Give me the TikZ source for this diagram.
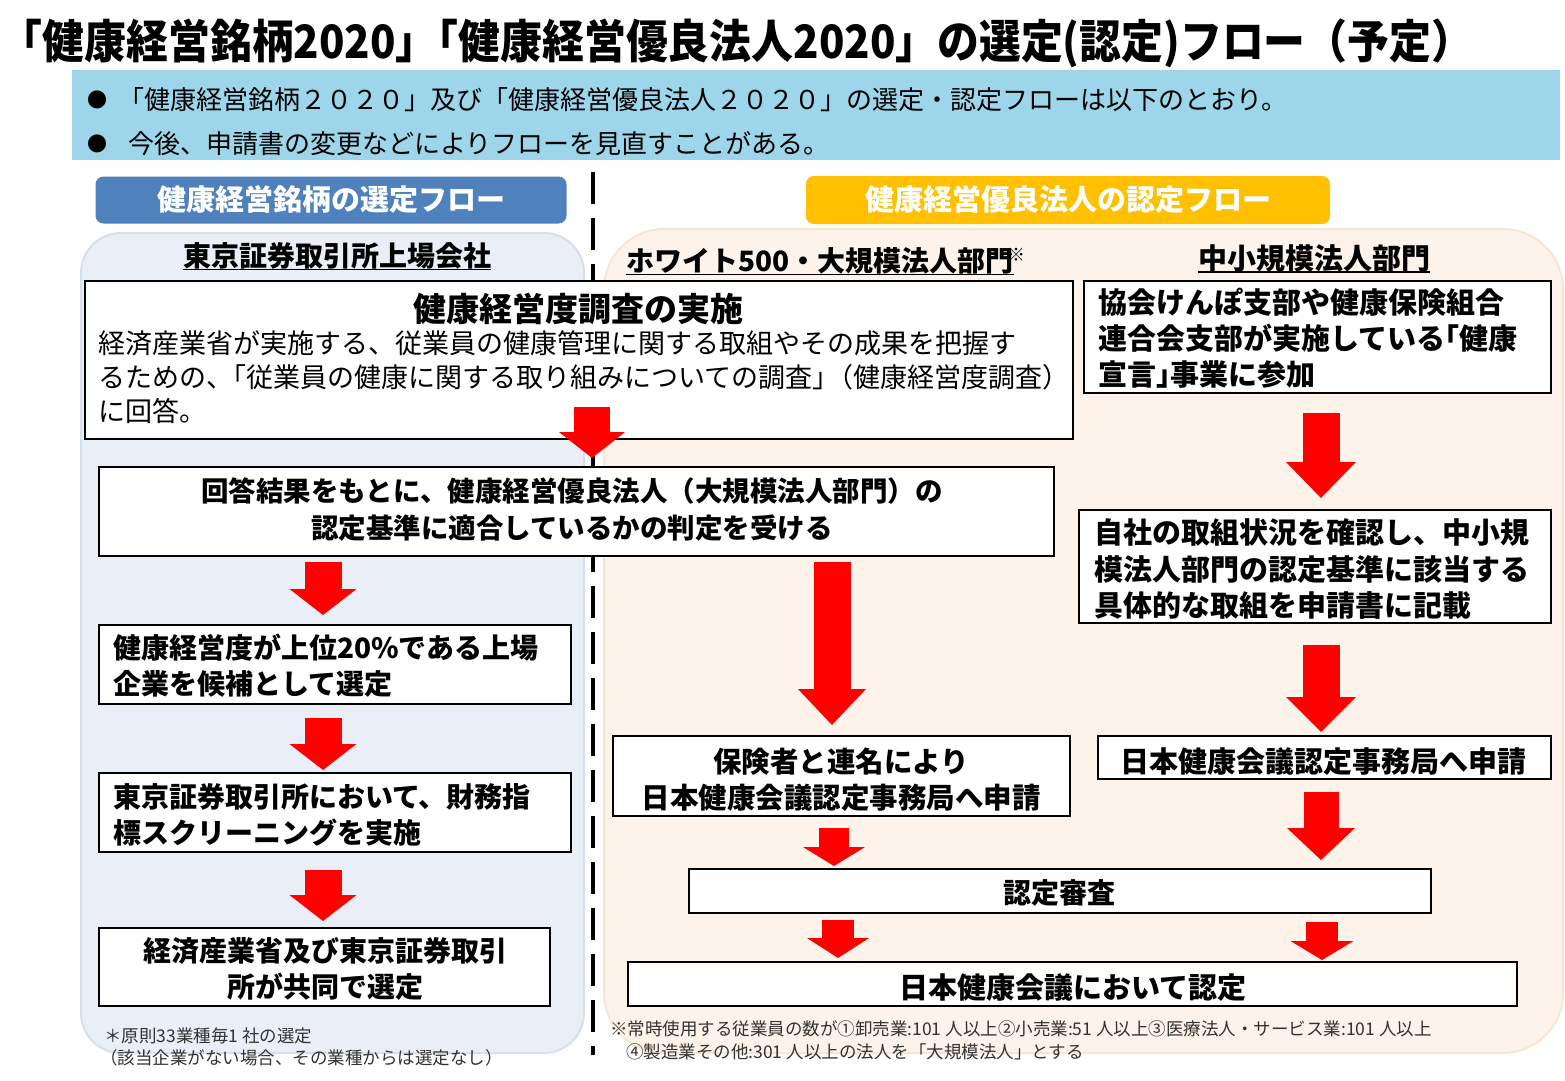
\documentclass[tikz,border=0pt]{standalone}
\usepackage{fontspec}
\usepackage{graphicx}
\setmainfont{Noto Sans CJK JP}
\usetikzlibrary{arrows.meta}
\definecolor{bandblue}{RGB}{157,213,234}
\definecolor{lheadblue}{RGB}{79,129,189}
\definecolor{rheadgold}{RGB}{255,192,0}
\definecolor{lpanelfill}{RGB}{234,239,247}
\definecolor{lpanelline}{RGB}{214,223,236}
\definecolor{rpanelfill}{RGB}{253,243,234}
\definecolor{rpanelline}{RGB}{248,230,212}
\definecolor{arrowred}{RGB}{255,0,0}
\definecolor{notegray}{RGB}{50,50,50}
\newcommand{\fsz}[2]{\fontsize{#1}{#2}\selectfont}
\newcommand{\jkern}{\kern-0.5em}
\begin{document}
\begin{tikzpicture}[x=1pt,y=-1pt,
  box/.style={draw=black, line width=1.6pt, fill=white, anchor=north west, inner sep=0pt},
  txt/.style={inner sep=0pt},
  btxt/.style={inner sep=0pt, font=\bfseries},
  headbox/.style={rounded corners=8pt, inner sep=0pt, text=white, font=\fsz{29}{34}\bfseries},
  subhead/.style={inner sep=0pt, font=\fsz{28}{34}\bfseries},
  uline/.style={line width=1.5pt},
  divider/.style={line width=4pt, dash pattern=on 32pt off 14pt},
  blockarrow/.style n args={3}{draw=arrowred, line width=#1, -{Triangle[width=#2, length=#3, line width=0pt]}},
  note/.style={inner sep=0pt, anchor=west, text=notegray, font=\fsz{17.5}{22}},
]
\useasboundingbox (0,0) rectangle (1565,1080);
\fill[white] (0,0) rectangle (1565,1080);

% title
\node[txt] (title) at (737,43) {\fsz{46}{52}\bfseries\scalebox{0.91}[1]{「健康経営銘柄2020」\jkern「健康経営優良法人2020」の選定(認定)フロー（予定）}};

% blue band
\node[fill=bandblue, anchor=north west, inner sep=0pt, minimum width=1488pt, minimum height=90pt] (band) at (72,70) {};
\node[txt, font=\fsz{20}{24}] (bul1) at (97,100) {●};
\node[txt, font=\fsz{20}{24}] (bul2) at (97,144) {●};
\node[txt, anchor=west, font=\fsz{26}{30}] (band1) at (118,100) {「健康経営銘柄２０２０」及び「健康経営優良法人２０２０」の選定・認定フローは以下のとおり。};
\node[txt, anchor=west, font=\fsz{26}{30}] (band2) at (128,144) {今後、申請書の変更などによりフローを見直すことがある。};

% panels
\node[fill=lpanelfill, draw=lpanelline, line width=2pt, rounded corners=40pt, anchor=north west, inner sep=0pt, minimum width=503pt, minimum height=820pt] (lpanel) at (80,232) {};
\node[fill=rpanelfill, draw=rpanelline, line width=2pt, rounded corners=60pt, anchor=north west, inner sep=0pt, minimum width=959pt, minimum height=824pt] (rpanel) at (603,228) {};

% headers
\node[headbox, fill=lheadblue, minimum width=471pt, minimum height=47pt] (lhead) at (331,200) {健康経営銘柄の選定フロー};
\node[headbox, fill=rheadgold, minimum width=524pt, minimum height=48pt] (rhead) at (1068,200) {健康経営優良法人の認定フロー};

% divider
\coordinate (dvt) at (593,172);
\coordinate (dvb) at (593,1055);
\draw[divider] (dvt) -- (dvb);

% sub headers
\node[subhead] (sh1) at (337,256) {東京証券取引所上場会社};
\draw[uline] (sh1.south west) -- (sh1.south east);
\node[subhead] (sh2) at (820,261) {ホワイト500・大規模法人部門};
\draw[uline] (sh2.south west) -- (sh2.south east);
\node[txt, font=\fsz{18}{20}] (sh2mark) at (1016,255) {※};
\node[subhead, font=\fsz{29}{34}\bfseries] (sh3) at (1314,258) {中小規模法人部門};
\draw[uline] (sh3.south west) -- (sh3.south east);

% boxes
\node[box, minimum width=988pt, minimum height=158pt] (b1) at (84,280) {};
\node[btxt, font=\fsz{33}{38}\bfseries] (b1t) at (578,309) {健康経営度調査の実施};
\node[txt, anchor=west, align=left, font=\fsz{27}{34}] (b1b) at (98,377) {経済産業省が実施する、従業員の健康管理に関する取組やその成果を把握す\\るための、\jkern「従業員の健康に関する取り組みについての調査」\jkern（健康経営度調査）\\に回答。};

\node[box, minimum width=955pt, minimum height=89pt] (b2) at (98,466) {};
\node[btxt, align=center, font=\fsz{27.5}{37}\bfseries] (b2t) at (572,509) {回答結果をもとに、健康経営優良法人（大規模法人部門）の\\認定基準に適合しているかの判定を受ける};

\node[box, minimum width=472pt, minimum height=79pt] (bL1) at (98,624) {};
\node[btxt, anchor=west, align=left, font=\fsz{28}{36}\bfseries] (bL1t) at (113,666) {健康経営度が上位20\%である上場\\企業を候補として選定};

\node[box, minimum width=472pt, minimum height=79pt] (bL2) at (98,772) {};
\node[btxt, anchor=west, align=left, font=\fsz{28}{36}\bfseries] (bL2t) at (113,815) {東京証券取引所において、財務指\\標スクリーニングを実施};

\node[box, minimum width=451pt, minimum height=78pt] (bL3) at (98,927) {};
\node[btxt, align=center, font=\fsz{28}{36}\bfseries] (bL3t) at (325,969) {経済産業省及び東京証券取引\\所が共同で選定};

\node[box, minimum width=457pt, minimum height=80pt] (bW) at (612,735) {};
\node[btxt, align=center, font=\fsz{28.5}{36}\bfseries] (bWt) at (841,780) {保険者と連名により\\日本健康会議認定事務局へ申請};

\node[box, minimum width=467pt, minimum height=112pt] (bS1) at (1083,280) {};
\node[btxt, anchor=west, align=left, font=\fsz{29}{36}\bfseries] (bS1t) at (1098,338) {協会けんぽ支部や健康保険組合\\連合会支部が実施している\jkern「健康\\宣言」\jkern 事業に参加};

\node[box, minimum width=472pt, minimum height=113pt] (bS2) at (1078,509) {};
\node[btxt, anchor=west, align=left, font=\fsz{29}{36.5}\bfseries] (bS2t) at (1094,569) {自社の取組状況を確認し、中小規\\模法人部門の認定基準に該当する\\具体的な取組を申請書に記載};

\node[box, minimum width=453pt, minimum height=43pt] (bS3) at (1097,735) {};
\node[btxt, font=\fsz{29}{34}\bfseries] (bS3t) at (1323,762) {日本健康会議認定事務局へ申請};

\node[box, minimum width=742pt, minimum height=44pt] (bR) at (688,868) {};
\node[btxt, font=\fsz{28}{34}\bfseries] (bRt) at (1059,893) {認定審査};

\node[box, minimum width=889pt, minimum height=44pt] (bF) at (627,961) {};
\node[btxt, font=\fsz{29}{34}\bfseries] (bFt) at (1073,988) {日本健康会議において認定};

% arrows
\coordinate (a1s) at (592,407);   \coordinate (a1e) at (592,458);
\coordinate (aL1s) at (323,562);  \coordinate (aL1e) at (323,615);
\coordinate (aL2s) at (323,718);  \coordinate (aL2e) at (323,770);
\coordinate (aL3s) at (323,870);  \coordinate (aL3e) at (323,921);
\coordinate (aR1s) at (832,562);  \coordinate (aR1e) at (832,725);
\coordinate (aW2s) at (834,828);  \coordinate (aW2e) at (834,866);
\coordinate (aW3s) at (838,920);  \coordinate (aW3e) at (838,958);
\coordinate (aS1s) at (1321,413); \coordinate (aS1e) at (1321,498);
\coordinate (aS2s) at (1321,645); \coordinate (aS2e) at (1321,732);
\coordinate (aS3s) at (1321,792); \coordinate (aS3e) at (1321,860);
\coordinate (aS4s) at (1322,922); \coordinate (aS4e) at (1322,960);
\draw[blockarrow={36pt}{66pt}{26pt}] (a1s) -- (a1e);
\draw[blockarrow={37pt}{67pt}{26pt}] (aL1s) -- (aL1e);
\draw[blockarrow={37pt}{67pt}{26pt}] (aL2s) -- (aL2e);
\draw[blockarrow={37pt}{67pt}{26pt}] (aL3s) -- (aL3e);
\draw[blockarrow={37pt}{68pt}{36pt}] (aR1s) -- (aR1e);
\draw[blockarrow={30pt}{62pt}{19pt}] (aW2s) -- (aW2e);
\draw[blockarrow={32pt}{62pt}{20pt}] (aW3s) -- (aW3e);
\draw[blockarrow={37pt}{70pt}{36pt}] (aS1s) -- (aS1e);
\draw[blockarrow={37pt}{70pt}{35pt}] (aS2s) -- (aS2e);
\draw[blockarrow={35pt}{68pt}{32pt}] (aS3s) -- (aS3e);
\draw[blockarrow={32pt}{63pt}{19pt}] (aS4s) -- (aS4e);

% footnotes
\node[note] (nL1) at (104,1036) {＊原則33業種毎1 社の選定};
\node[note] (nL2) at (100,1058) {（該当企業がない場合、その業種からは選定なし）};
\node[note] (nR1) at (610,1029) {※常時使用する従業員の数が①卸売業:101 人以上②小売業:51 人以上③医療法人・サービス業:101 人以上};
\node[note] (nR2) at (626,1052) {④製造業その他:301 人以上の法人を「大規模法人」とする};
\end{tikzpicture}
\end{document}
